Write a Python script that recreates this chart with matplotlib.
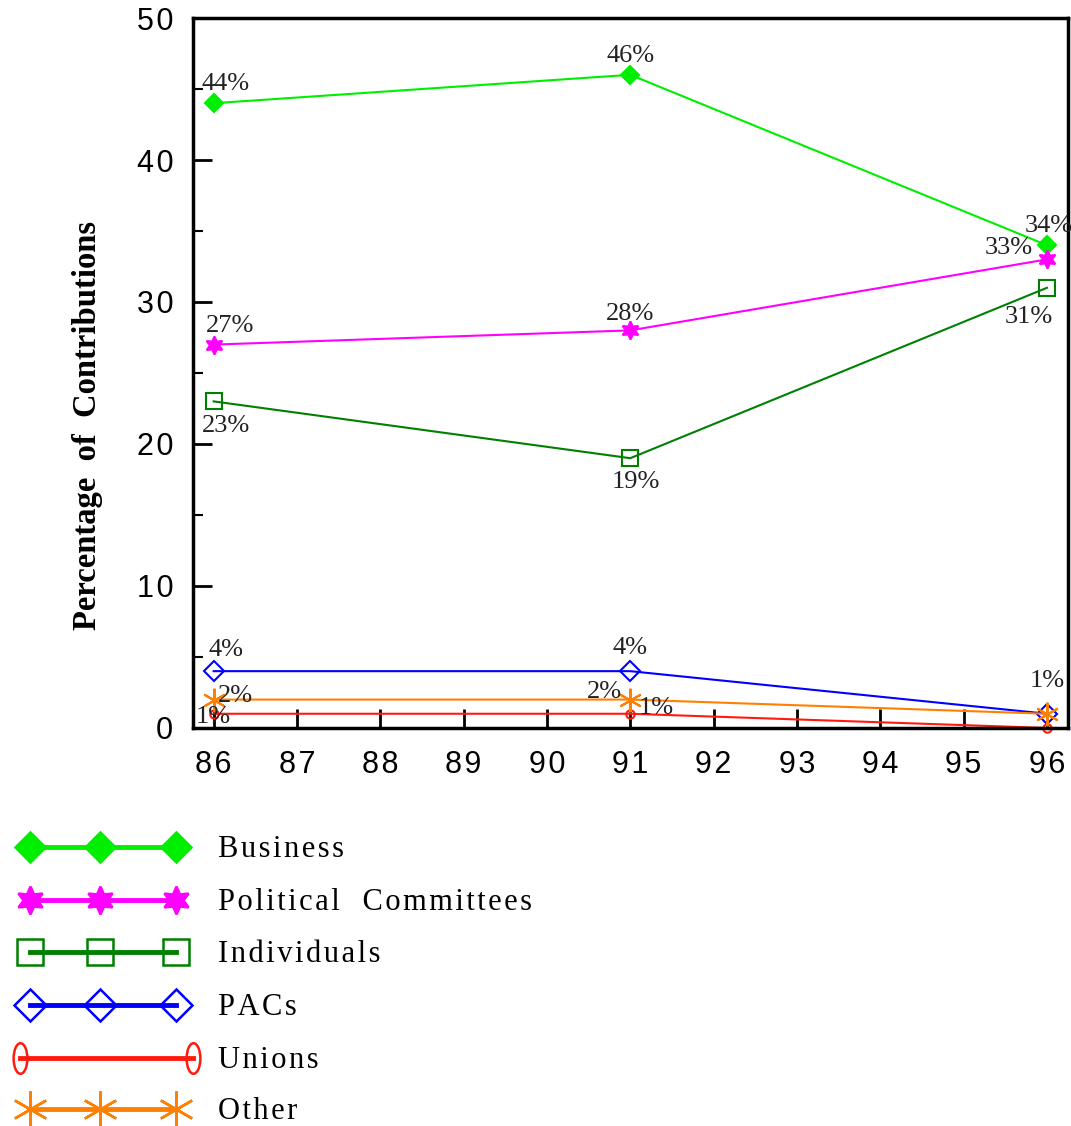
import numpy as np
import matplotlib
matplotlib.use("Agg")
import matplotlib.pyplot as plt
from matplotlib.lines import Line2D
from matplotlib.path import Path
from matplotlib.transforms import Affine2D

# data
years = [86, 91, 96]
business = [44, 46, 34]
political = [27, 28, 33]
individuals = [23, 19, 31]
pacs = [4, 4, 1]
unions = [1, 1, 0]
other = [2, 2, 1]

series_names = ["Business", "Political  Committees", "Individuals", "PACs", "Unions", "Other"]
xticks = list(range(86, 97))
yticks = [0, 10, 20, 30, 40, 50]

SERIF = "Liberation Serif"
SANS = "Liberation Sans"
HS = "\u200a"  # hair space, the original is letter-spaced


def spaced(s):
    return HS.join(s)


fig = plt.figure(figsize=(10.71, 11.26), dpi=100)
ax = fig.add_axes([0.180, 0.3535, 0.817, 0.6305])

star6 = (6, 1, 0)
aster6 = (6, 2, 0)
ellipse = Path.unit_circle().transformed(Affine2D().scale(0.45, 1.0))

styles = [
    dict(color="#00ee00", marker="D", ms=9, mfc="#00ee00", mec="#00ee00"),
    dict(color="#ff00ff", marker=star6, ms=13, mfc="#ff00ff", mec="#ff00ff"),
    dict(color="#008000", marker="s", ms=11, mfc="none", mec="#008000"),
    dict(color="#0000ff", marker="D", ms=10, mfc="none", mec="#0000ff"),
    dict(color="#ff1a10", marker="o", ms=6, mfc="none", mec="#ff1a10"),
    dict(color="#ff8000", marker=aster6, ms=17, mfc="none", mec="#ff8000"),
]
legend_ms = [15, 20, 19, 16, 22, 26]
data = [business, political, individuals, pacs, unions, other]

for vals, st in zip(data, styles):
    ax.plot(years, vals, lw=1.5, mew=1.5, clip_on=False, **st)

# percentage labels: (x, y, text, dx, dy, ha, va)
labels = [
    (86, 44, "44%", -12, 8, "left", "bottom"),
    (91, 46, "46%", 0, 8, "center", "bottom"),
    (96, 34, "34%", 2, 8, "center", "bottom"),
    (86, 27, "27%", -8, 8, "left", "bottom"),
    (91, 28, "28%", 0, 5, "center", "bottom"),
    (96, 33, "33%", -14, 0, "right", "bottom"),
    (86, 23, "23%", 12, -14, "center", "top"),
    (91, 19, "19%", 6, -13, "center", "top"),
    (96, 31, "31%", -18, -18, "center", "top"),
    (86, 4, "4%", 12, 10, "center", "bottom"),
    (91, 4, "4%", 0, 12, "center", "bottom"),
    (96, 1, "1%", 0, 22, "center", "bottom"),
    (86, 1, "1%", 0, -3, "center", "center"),
    (91, 1, "1%", 8, 6, "left", "center"),
    (86, 2, "2%", 4, 4, "left", "center"),
    (91, 2, "2%", -8, 8, "right", "center"),
]
for x, y, t, dx, dy, ha, va in labels:
    ax.annotate(t, (x, y), xytext=(dx, dy), textcoords="offset pixels",
                ha=ha, va=va, fontsize=19, family=SERIF, color="#222222")

ax.set_xlim(85.75, 96.25)
ax.set_ylim(0, 50)
ax.set_xticks(xticks)
ax.set_xticklabels([spaced(str(v)) for v in xticks])
ax.set_yticks(yticks)
ax.set_yticklabels([spaced(str(v)) for v in yticks])
ax.set_yticks([5, 15, 25, 35, 45], minor=True)
ax.tick_params(direction="in", length=14, width=2, labelsize=22, pad=14)
ax.tick_params(axis="y", which="minor", direction="in", length=7, width=1.5)
ax.tick_params(axis="x", pad=16)
for lab in ax.get_xticklabels() + ax.get_yticklabels():
    lab.set_family(SANS)
for sp in ax.spines.values():
    sp.set_linewidth(2.5)

W, H = 1071.0, 1126.0
fig.text(88 / W, 1 - 426 / H, "Percentage  of  Contributions", family=SERIF,
         fontweight="bold", fontsize=23.5, rotation=90, ha="center", va="center")

# legend drawn by hand below the axes
row_y = [847, 900, 952, 1005, 1058, 1109]
for i, (name, st) in enumerate(zip(series_names, styles)):
    yf = 1 - row_y[i] / H
    xs = [30 / W, 100 / W, 176 / W]
    ys = [yf, yf, yf]
    st2 = dict(st)
    st2.pop("ms")
    if name == "Unions":
        xs = [20 / W, 193 / W]
        ys = [yf, yf]
        st2["marker"] = ellipse
    fig.add_artist(Line2D(xs, ys, lw=3.5, mew=1.8, ms=legend_ms[i], **st2))
    fig.text(218 / W, yf - 0.0025, spaced(name), family=SERIF, fontsize=22, va="center", ha="left")

fig.savefig("out.png", dpi=100)
